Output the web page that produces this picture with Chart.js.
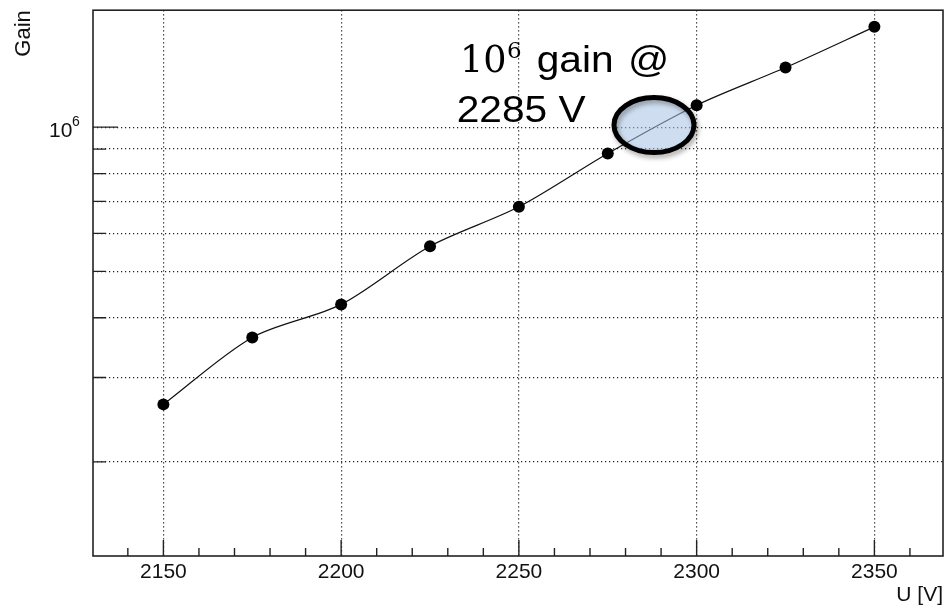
<!DOCTYPE html>
<html>
<head>
<meta charset="utf-8">
<script src="https://cdn.jsdelivr.net/npm/chart.js@4/dist/chart.umd.min.js"></script>
<style>
  html, body { margin: 0; padding: 0; background: #fff; }
  #wrap { width: 949px; height: 608px; }
</style>
</head>
<body>
<div id="wrap"><canvas id="gainCanvas" width="949" height="608"></canvas></div>
<script>
// PMT gain vs. high voltage
const voltages = [2150, 2175, 2200, 2225, 2250, 2275, 2300, 2325, 2350];
const gains = [263700, 363900, 426500, 564200, 681900, 881300, 1111500, 1332000, 1620000];

const xTicks = [2150, 2200, 2250, 2300, 2350];
const xMinorTicks = [2140, 2160, 2170, 2180, 2190, 2210, 2220, 2230, 2240, 2260, 2270, 2280, 2290, 2310, 2320, 2330, 2340, 2360];
const yTicks = [200000, 300000, 400000, 500000, 600000, 700000, 800000, 900000, 1000000];

const markVoltage = 2288;
const markGain = 1010000;

// frame, inward ticks, 10^6 label and the working point marker
const frameDecor = {
    id: 'frameDecor',
    afterDatasetsDraw(chart) {
        const ctx = chart.ctx;
        const area = chart.chartArea;
        const xs = chart.scales.x;
        const ys = chart.scales.y;

        ctx.save();
        ctx.strokeStyle = '#222';
        ctx.lineWidth = 1.6;
        ctx.strokeRect(area.left, area.top, area.right - area.left, area.bottom - area.top);

        ctx.lineWidth = 1.4;
        ctx.beginPath();
        xTicks.forEach(v => {
            const px = xs.getPixelForValue(v);
            ctx.moveTo(px, area.bottom);
            ctx.lineTo(px, area.bottom - 16);
        });
        xMinorTicks.forEach(v => {
            const px = xs.getPixelForValue(v);
            ctx.moveTo(px, area.bottom);
            ctx.lineTo(px, area.bottom - 8);
        });
        yTicks.forEach(v => {
            const py = ys.getPixelForValue(v);
            ctx.moveTo(area.left, py);
            ctx.lineTo(area.left + (v === 1000000 ? 25 : 13), py);
        });
        ctx.stroke();

        // y label 10^6
        const y6 = ys.getPixelForValue(1000000);
        ctx.fillStyle = '#111';
        ctx.textBaseline = 'alphabetic';
        ctx.textAlign = 'left';
        ctx.font = '21px "Liberation Sans", Arial, sans-serif';
        ctx.fillText('10', 49, y6 + 10);
        ctx.font = '14px "Liberation Sans", Arial, sans-serif';
        ctx.fillText('6', 72, y6 - 1);

        // ellipse around the 10^6 crossing
        const cx = xs.getPixelForValue(markVoltage);
        const cy = ys.getPixelForValue(markGain);
        ctx.beginPath();
        ctx.ellipse(cx, cy, 40, 27.5, 0, 0, Math.PI * 2);
        ctx.fillStyle = 'rgba(165, 195, 228, 0.55)';
        ctx.fill();
        ctx.shadowColor = 'rgba(0, 0, 0, 0.35)';
        ctx.shadowBlur = 5;
        ctx.shadowOffsetX = 2;
        ctx.shadowOffsetY = 3;
        ctx.strokeStyle = '#000';
        ctx.lineWidth = 5;
        ctx.stroke();
        ctx.restore();

        // annotation text
        ctx.save();
        ctx.fillStyle = '#000';
        ctx.textBaseline = 'alphabetic';
        ctx.font = '36.6px "DejaVu Serif", serif';
        ctx.fillText('10', 460, 71.7);
        ctx.font = '23px "DejaVu Serif", serif';
        ctx.fillText('6', 507, 58.3);
        const piece = (text, x, y) => {
            ctx.save();
            ctx.translate(x, y);
            ctx.scale(1.1, 1);
            ctx.font = '37px "Liberation Sans", Arial, sans-serif';
            ctx.fillText(text, 0, 0);
            ctx.restore();
        };
        piece('gain', 536.7, 71.7);
        piece('@', 628, 71.7);
        piece('2285 V', 456.7, 121.7);
        ctx.restore();
    }
};

const ctx = document.getElementById('gainCanvas').getContext('2d');
const gainChart = new Chart(ctx, {
    type: 'line',
    data: {
        datasets: [{
            label: 'Gain',
            data: voltages.map((v, i) => ({ x: v, y: gains[i] })),
            borderColor: '#111',
            borderWidth: 1.2,
            backgroundColor: '#000',
            pointBackgroundColor: '#000',
            pointBorderColor: '#000',
            pointRadius: 6,
            pointBorderWidth: 0,
            tension: 0.3,
            fill: false
        }]
    },
    options: {
        responsive: false,
        devicePixelRatio: 1,
        animation: false,
        layout: { padding: { top: 10, right: 2, left: 0, bottom: 0 } },
        plugins: {
            legend: { display: false },
            tooltip: { enabled: false }
        },
        scales: {
            x: {
                type: 'linear',
                min: 2130.2,
                max: 2369.3,
                afterBuildTicks: scale => { scale.ticks = xTicks.map(v => ({ value: v })); },
                afterFit: scale => { scale.height = 52; },
                grid: { color: '#222', lineWidth: 1.2, drawTicks: false },
                border: { display: false, dash: [1.2, 2.8] },
                ticks: {
                    color: '#111',
                    padding: 4,
                    maxRotation: 0,
                    callback: v => String(v),
                    font: { family: '"Liberation Sans", Arial, sans-serif', size: 21 }
                },
                title: {
                    display: true,
                    text: 'U [V]',
                    align: 'end',
                    color: '#111',
                    padding: { top: 0, bottom: 0 },
                    font: { family: '"Liberation Sans", Arial, sans-serif', size: 21 }
                }
            },
            y: {
                type: 'logarithmic',
                min: 127200,
                max: 1755000,
                afterBuildTicks: scale => { scale.ticks = yTicks.map(v => ({ value: v })); },
                afterFit: scale => { scale.width = 93; },
                grid: { color: '#222', lineWidth: 1.2, drawTicks: false },
                border: { display: false, dash: [1.2, 2.8] },
                ticks: { callback: () => '' },
                title: {
                    display: true,
                    text: 'Gain',
                    align: 'end',
                    color: '#111',
                    padding: { top: 11, bottom: 0 },
                    font: { family: '"Liberation Sans", Arial, sans-serif', size: 22 }
                }
            }
        }
    },
    plugins: [frameDecor]
});
</script>
</body>
</html>
